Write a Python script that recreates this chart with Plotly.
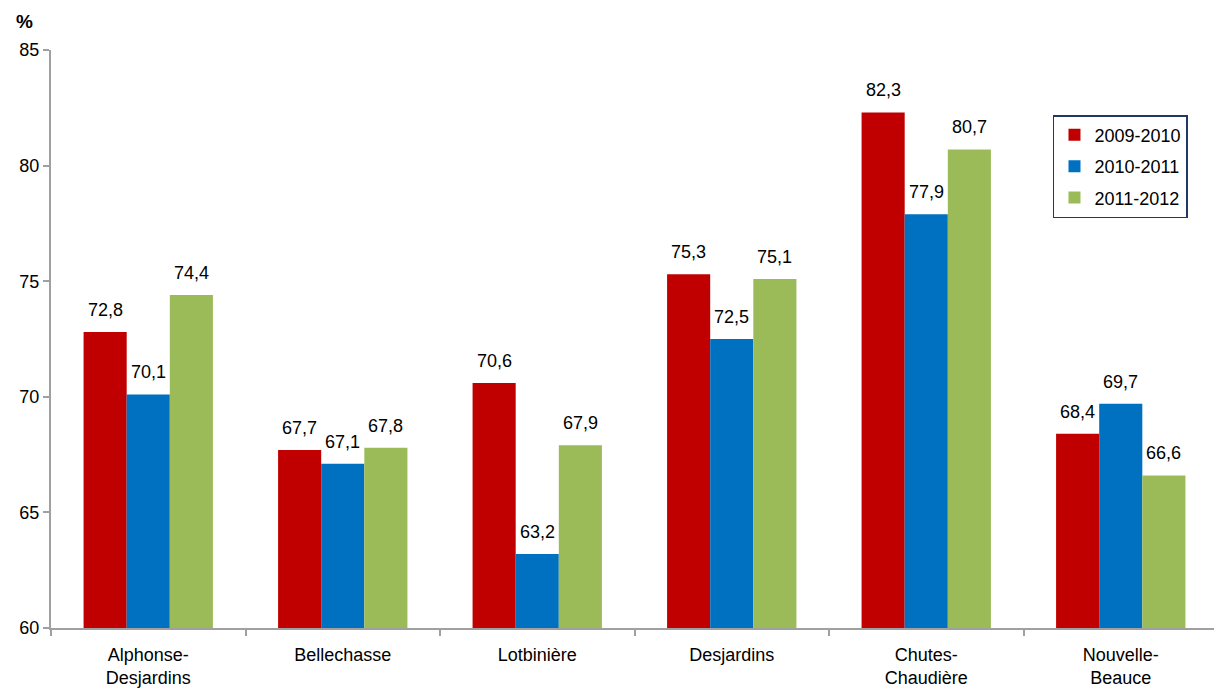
import plotly.graph_objects as go

categories = ["Alphonse-<br>Desjardins", "Bellechasse", "Lotbinière", "Desjardins", "Chutes-<br>Chaudière", "Nouvelle-<br>Beauce"]
series_names = ["2009-2010", "2010-2011", "2011-2012"]
v2009 = [72.8, 67.7, 70.6, 75.3, 82.3, 68.4]
v2010 = [70.1, 67.1, 63.2, 72.5, 77.9, 69.7]
v2011 = [74.4, 67.8, 67.9, 75.1, 80.7, 66.6]
colors = ["#C00000", "#0070C0", "#9BBB59"]
y_ticks = [60, 65, 70, 75, 80, 85]

FONT = "Liberation Sans Narrow, Arial Narrow, Liberation Sans, Arial, sans-serif"
BARGAP = 0.335

fig = go.Figure()
all_vals = [v2009, v2010, v2011]
for name, vals, col in zip(series_names, all_vals, colors):
    fig.add_trace(go.Bar(
        x=categories, y=[v - 60 for v in vals], base=60, name=name,
        legendgroup=name,
        marker=dict(color=col, line=dict(width=0)),
    ))

# data labels placed above each bar (offset computed from group layout)
bar_w = (1 - BARGAP) / len(all_vals)
annotations = []
for k, vals in enumerate(all_vals):
    off = (k - (len(all_vals) - 1) / 2) * bar_w
    for i, v in enumerate(vals):
        annotations.append(dict(
            x=i + off, y=v, xref="x", yref="y",
            text=f"{v:.1f}".replace(".", ","), showarrow=False,
            yanchor="bottom", xanchor="center", yshift=10,
            font=dict(family=FONT, size=18, color="#000000"),
        ))

annotations.append(dict(
    text="<b>%</b>", x=-0.023, y=1.05, xref="paper", yref="paper", showarrow=False,
    xanchor="center", yanchor="middle",
    font=dict(family=FONT, size=19, color="#000000"),
))

# the page body has an 8px margin: compensate so the plot lands where the reference's does
fig.update_layout(
    width=1214, height=688,
    margin=dict(l=43, r=4, t=42, b=68),
    paper_bgcolor="white", plot_bgcolor="white",
    barmode="group", bargap=BARGAP, bargroupgap=0,
    font=dict(family=FONT, size=18, color="#000000"),
    showlegend=True,
    legend=dict(
        x=0.8586, y=0.8875, xanchor="left", yanchor="top",
        bordercolor="#1F3864", borderwidth=1.5, bgcolor="white",
        font=dict(family=FONT, size=18, color="#000000"),
        traceorder="grouped", tracegroupgap=5,
        itemwidth=30,
    ),
    xaxis=dict(
        automargin=False,
        showline=True, linecolor="#A0A0A0", linewidth=2,
        ticks="outside", tickson="boundaries", ticklen=6, tickcolor="#A0A0A0", tickwidth=2,
        tickfont=dict(family=FONT, size=18, color="#000000"),
        ticklabelstandoff=9,
        showgrid=False,
    ),
    yaxis=dict(
        automargin=False,
        range=[60, 85], tickvals=y_ticks, ticktext=[str(t) for t in y_ticks],
        showline=True, linecolor="#A0A0A0", linewidth=2,
        ticks="outside", ticklen=6, tickcolor="#A0A0A0", tickwidth=2,
        tickfont=dict(family=FONT, size=18, color="#000000"),
        showgrid=False, zeroline=False,
    ),
    annotations=annotations,
)

fig.write_html("out.html")
